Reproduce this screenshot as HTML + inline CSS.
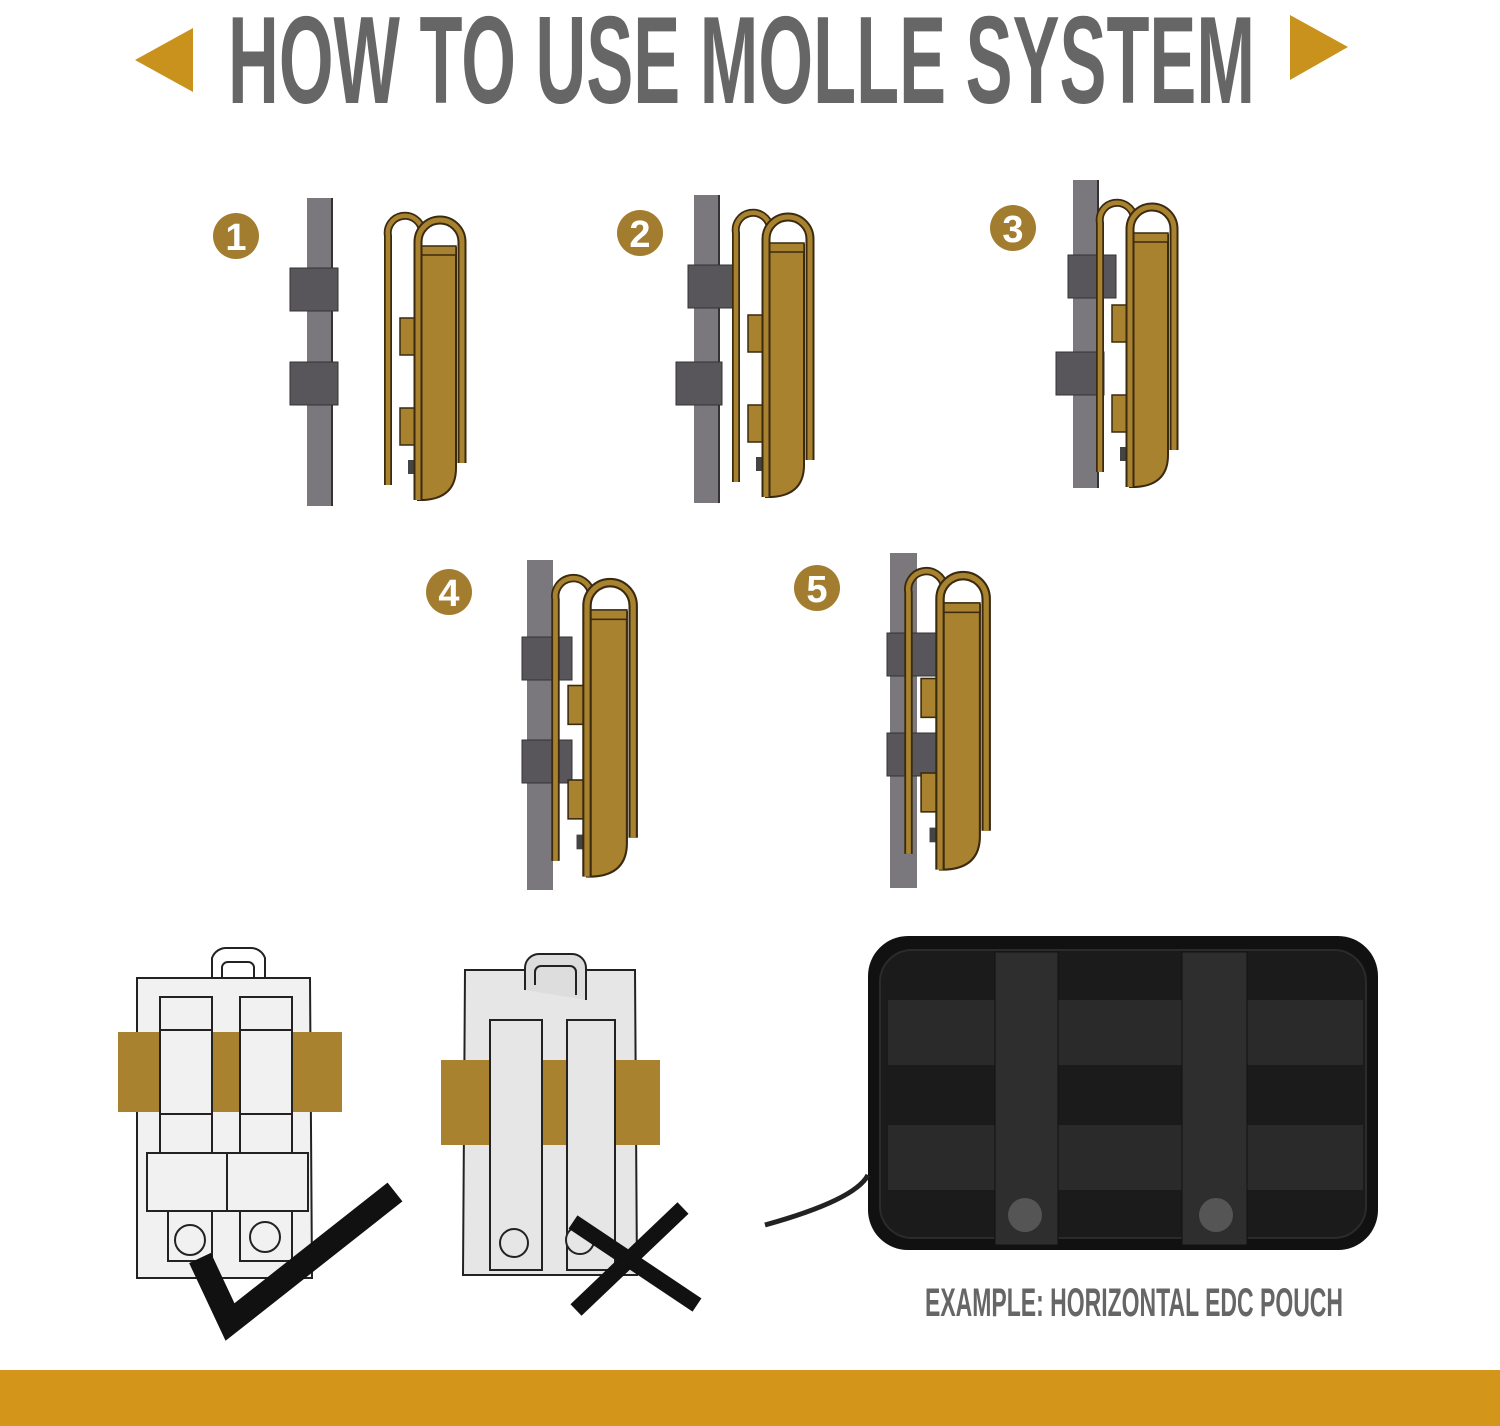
<!DOCTYPE html>
<html><head><meta charset="utf-8"><style>
html,body{margin:0;padding:0;background:#fff;}
svg{display:block;}
</style></head><body>
<svg width="1500" height="1426" viewBox="0 0 1500 1426" xmlns="http://www.w3.org/2000/svg">
<defs>
<g id="pouch">
  <path d="M-30,237 V-12 A17,17 0 0 1 4,-18" fill="none" stroke="#3a2a10" stroke-width="8"/>
  <path d="M-30,237 V-12 A17,17 0 0 1 4,-18" fill="none" stroke="#a8822e" stroke-width="4.5"/>
  <rect x="-18" y="70" width="18" height="37" fill="#a8822e" stroke="#3a2a10" stroke-width="1.5"/>
  <rect x="-18" y="160" width="18" height="37" fill="#a8822e" stroke="#3a2a10" stroke-width="1.5"/>
  <rect x="-10" y="212" width="8" height="14" fill="#444" />
  <path d="M0,0 H38 V220 Q38,250 6,252 H0 Z" fill="#a8822e" stroke="#3a2a10" stroke-width="2"/>
  <rect x="0" y="-2" width="38" height="9" fill="#a8822e" stroke="#3a2a10" stroke-width="1.5"/>
  <path d="M0,252 V-6 A22,22 0 0 1 44,-6 V215" fill="none" stroke="#3a2a10" stroke-width="9"/>
  <path d="M0,252 V-6 A22,22 0 0 1 44,-6 V215" fill="none" stroke="#a8822e" stroke-width="5"/>
</g>
<g id="strip">
  <rect x="0" y="0" width="25" height="308" fill="#7a787c"/>
  <rect x="24" y="0" width="2" height="308" fill="#333"/>
</g>
</defs>

<!-- title -->
<polygon points="135,60 193,28 193,92" fill="#c8921c"/>
<polygon points="1290,15 1348,47 1290,80" fill="#c8921c"/>
<text x="228" y="103" font-family="Liberation Sans Narrow, Liberation Sans, sans-serif" font-weight="bold" font-size="124" fill="#666" textLength="1027" lengthAdjust="spacingAndGlyphs">HOW TO USE MOLLE SYSTEM</text>

<!-- step 1 -->
<circle cx="236" cy="236" r="23" fill="#a37d2f"/>
<text x="236" y="250" text-anchor="middle" font-family="Liberation Sans Narrow, Liberation Sans, sans-serif" font-weight="bold" font-size="38" fill="#fff">1</text>
<use href="#strip" x="307" y="198"/>
<rect x="290" y="268" width="48" height="43" fill="#58565a" stroke="#333"/>
<rect x="290" y="362" width="48" height="43" fill="#58565a" stroke="#333"/>
<use href="#pouch" transform="translate(418,248)"/>

<!-- step 2 -->
<circle cx="640" cy="233" r="23" fill="#a37d2f"/>
<text x="640" y="247" text-anchor="middle" font-family="Liberation Sans Narrow, Liberation Sans, sans-serif" font-weight="bold" font-size="38" fill="#fff">2</text>
<use href="#strip" x="694" y="195"/>
<rect x="688" y="265" width="48" height="43" fill="#58565a" stroke="#333"/>
<rect x="676" y="362" width="46" height="43" fill="#58565a" stroke="#333"/>
<use href="#pouch" transform="translate(766,245)"/>

<!-- step 3 -->
<circle cx="1013" cy="228" r="23" fill="#a37d2f"/>
<text x="1013" y="242" text-anchor="middle" font-family="Liberation Sans Narrow, Liberation Sans, sans-serif" font-weight="bold" font-size="38" fill="#fff">3</text>
<use href="#strip" x="1073" y="180" transform="translate(0,0)"/>
<rect x="1068" y="255" width="48" height="43" fill="#58565a" stroke="#333"/>
<rect x="1056" y="352" width="48" height="43" fill="#58565a" stroke="#333"/>
<use href="#pouch" transform="translate(1130,235)"/>

<!-- step 4 -->
<circle cx="449" cy="592" r="23" fill="#a37d2f"/>
<text x="449" y="606" text-anchor="middle" font-family="Liberation Sans Narrow, Liberation Sans, sans-serif" font-weight="bold" font-size="38" fill="#fff">4</text>
<rect x="527" y="560" width="26" height="330" fill="#7a787c"/>
<rect x="522" y="637" width="50" height="43" fill="#58565a" stroke="#333"/>
<rect x="522" y="740" width="50" height="43" fill="#58565a" stroke="#333"/>
<use href="#pouch" transform="translate(587,612) scale(1.05)"/>

<!-- step 5 -->
<circle cx="817" cy="588" r="23" fill="#a37d2f"/>
<text x="817" y="602" text-anchor="middle" font-family="Liberation Sans Narrow, Liberation Sans, sans-serif" font-weight="bold" font-size="38" fill="#fff">5</text>
<rect x="890" y="553" width="27" height="335" fill="#7a787c"/>
<rect x="887" y="633" width="50" height="43" fill="#58565a" stroke="#333"/>
<rect x="887" y="733" width="50" height="43" fill="#58565a" stroke="#333"/>
<use href="#pouch" transform="translate(940,605) scale(1.05)"/>

<!-- left drawing -->
<g stroke="#222" stroke-width="2" fill="#f1f1f1">
  <path d="M212,985 V958 A15,15 0 0 1 227,948 H250 A15,15 0 0 1 265,958 V985 M222,985 V967 A6,6 0 0 1 228,962 H248 A6,6 0 0 1 254,967 V985" fill="none"/>
  <path d="M137,978 H310 L312,1278 H137 Z"/>
  <rect x="160" y="997" width="52" height="165"/>
  <rect x="240" y="997" width="52" height="165"/>
  <rect x="118" y="1032" width="224" height="80" fill="#a8822e" stroke="none"/>
  <rect x="160" y="1030" width="52" height="84"/>
  <rect x="240" y="1030" width="52" height="84"/>
  <rect x="147" y="1153" width="80" height="58"/>
  <rect x="227" y="1153" width="81" height="58"/>
  <rect x="168" y="1211" width="44" height="50" fill="none"/>
  <rect x="240" y="1211" width="52" height="50" fill="none"/>
  <circle cx="190" cy="1240" r="15"/>
  <circle cx="265" cy="1237" r="15"/>
</g>
<path d="M200,1258 L230,1322 L395,1192" fill="none" stroke="#111" stroke-width="24"/>

<!-- right drawing -->
<g stroke="#222" stroke-width="2" fill="#e6e6e6">
  <path d="M465,970 H635 L637,1275 H463 Z"/>
  <path d="M525,990 V968 A14,14 0 0 1 539,954 H572 A14,14 0 0 1 586,968 V1000 M535,985 V972 A6,6 0 0 1 541,966 H570 A6,6 0 0 1 576,972 V995" fill="#ddd"/>
  <rect x="441" y="1060" width="219" height="85" fill="#a8822e" stroke="none"/>
  <rect x="490" y="1020" width="52" height="250"/>
  <rect x="567" y="1020" width="48" height="250"/>
  <circle cx="514" cy="1243" r="14"/>
  <circle cx="580" cy="1240" r="14"/>
</g>
<g stroke="#111" stroke-width="16">
  <line x1="573" y1="1222" x2="697" y2="1305"/>
  <line x1="683" y1="1208" x2="576" y2="1310"/>
</g>

<!-- black pouch -->
<rect x="868" y="936" width="510" height="314" rx="40" fill="#111"/>
<rect x="880" y="950" width="486" height="288" rx="32" fill="#1b1b1b" stroke="#2b2b2b" stroke-width="2"/>
<rect x="888" y="1000" width="475" height="65" fill="#2a2a2a"/>
<rect x="888" y="1125" width="475" height="65" fill="#2a2a2a"/>
<rect x="995" y="952" width="63" height="293" fill="#2e2e2e" stroke="#111"/>
<rect x="1182" y="952" width="65" height="293" fill="#2e2e2e" stroke="#111"/>
<circle cx="1025" cy="1215" r="17" fill="#555"/>
<circle cx="1216" cy="1215" r="17" fill="#555"/>
<path d="M868,1175 Q855,1200 765,1225" stroke="#222" stroke-width="5" fill="none"/>
<text x="925" y="1316" font-family="Liberation Sans Narrow, Liberation Sans, sans-serif" font-weight="bold" font-size="40" fill="#666" textLength="418" lengthAdjust="spacingAndGlyphs">EXAMPLE: HORIZONTAL EDC POUCH</text>

<!-- bottom bar -->
<rect x="0" y="1370" width="1500" height="56" fill="#d3961a"/>
</svg>
</body></html>
